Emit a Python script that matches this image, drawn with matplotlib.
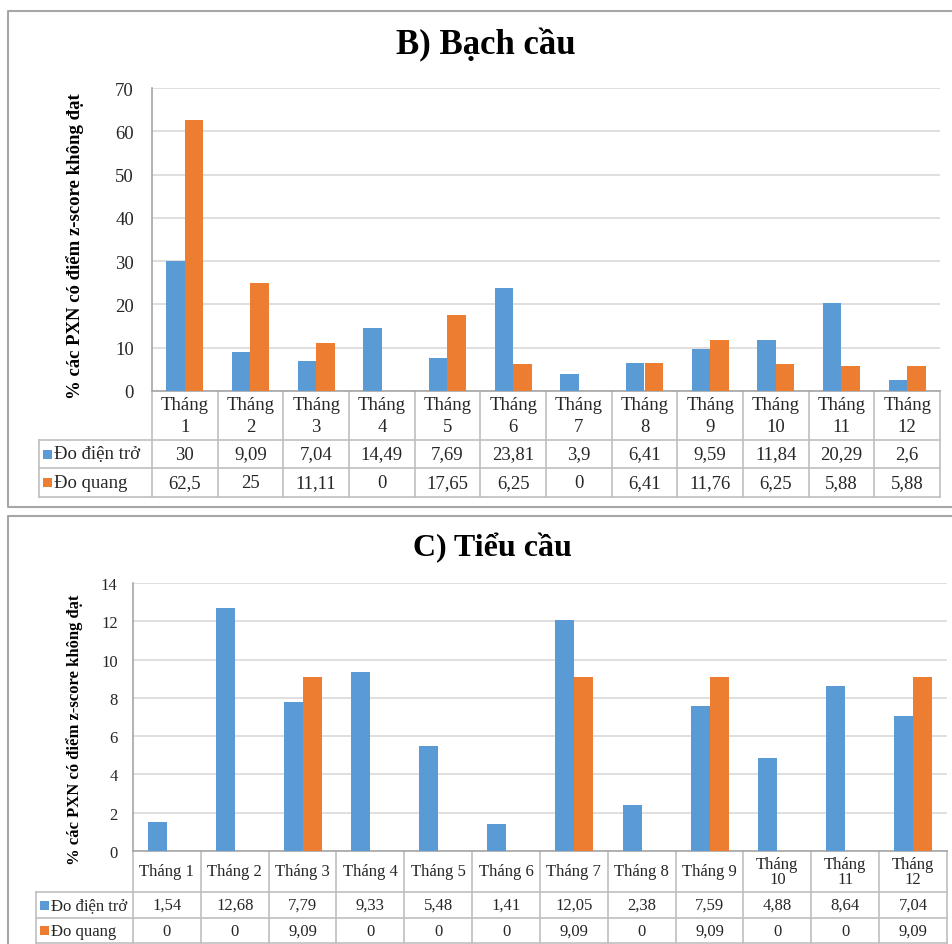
import matplotlib

matplotlib.use("Agg")
import matplotlib.pyplot as plt
import numpy as np

W, H = 953, 945

# ---------------------------------------------------------------- dữ liệu
months = [f"Tháng {i}" for i in range(1, 13)]
series = ["Đo điện trở", "Đo quang"]
b_dien_tro = [30, 9.09, 7.04, 14.49, 7.69, 23.81, 3.9, 6.41, 9.59, 11.84, 20.29, 2.6]
b_quang = [62.5, 25, 11.11, 0, 17.65, 6.25, 0, 6.41, 11.76, 6.25, 5.88, 5.88]
c_dien_tro = [1.54, 12.68, 7.79, 9.33, 5.48, 1.41, 12.05, 2.38, 7.59, 4.88, 8.64, 7.04]
c_quang = [0, 0, 9.09, 0, 0, 0, 9.09, 0, 9.09, 0, 0, 9.09]
b_yticks = np.arange(0, 71, 10)
c_yticks = np.arange(0, 15, 2)
ylabel = "% các PXN có điểm z-score không đạt"

BLUE, ORANGE = "#5B9BD5", "#ED7D31"
GRID, LINE, FRAME = "#D9D9D9", "#BFBFBF", "#A6A6A6"
plt.rcParams["font.family"] = ["Liberation Serif", "DejaVu Serif"]

fig = plt.figure(figsize=(W / 100, H / 100), dpi=100)
bg = fig.add_axes([0, 0, 1, 1])
bg.set_xlim(0, W); bg.set_ylim(H, 0); bg.axis("off")


def fmt(v):
    return f"{v:g}".replace(".", ",")


def panel(title, title_xy, title_fs, vals, yticks, box, rows, leg_x, frame,
          cats, fs, ylab_y, ylab_fs, pad, cat_ls):
    x0, y0, x1, y1 = box
    # khung ngoài
    fx0, fy0, fx1, fy1 = frame
    bg.plot([fx1, fx0, fx0, fx1], [fy0, fy0, fy1, fy1], color=FRAME, lw=1.5)
    bg.text(*title_xy, title, ha="center", va="center", fontsize=title_fs, fontweight="bold")
    bg.text(75, ylab_y, ylabel, ha="center", va="center", rotation=90,
            fontsize=ylab_fs, fontweight="bold")

    ax = fig.add_axes([x0 / W, 1 - y1 / H, (x1 - x0) / W, (y1 - y0) / H])
    x = np.arange(len(cats))
    wbar = 0.28
    ax.bar(x - wbar / 2, vals[0], wbar, color=BLUE, zorder=3)
    ax.bar(x + wbar / 2, vals[1], wbar, color=ORANGE, zorder=3)
    ax.set_xlim(-0.5, len(cats) - 0.5)
    ax.set_ylim(yticks[0], yticks[-1])
    ax.set_yticks(yticks)
    ax.set_xticks([])
    ax.tick_params(axis="y", length=0, pad=pad, labelsize=fs, colors="#262626")
    ax.grid(axis="y", color=GRID, lw=1.2, zorder=0)
    for s in ("top", "right"):
        ax.spines[s].set_visible(False)
    for s in ("left", "bottom"):
        ax.spines[s].set_color(FRAME); ax.spines[s].set_linewidth(1.2)
    ax.patch.set_alpha(0)

    # bảng dữ liệu
    colw = (x1 - x0) / len(cats)
    r0, r1, r2, r3 = rows
    for i in range(len(cats) + 1):
        bg.plot([x0 + i * colw] * 2, [r0, r3], color=LINE, lw=1.2)
    bg.plot([leg_x, leg_x], [r1, r3], color=LINE, lw=1.2)
    for yy in (r1, r2, r3):
        bg.plot([leg_x, x1], [yy, yy], color=LINE, lw=1.2)
    for i, c in enumerate(cats):
        cx = x0 + (i + 0.5) * colw
        bg.text(cx, (r0 + r1) / 2, c, ha="center", va="center", fontsize=fs,
                linespacing=cat_ls, color="#262626")
        for k, (ya, yb) in enumerate([(r1, r2), (r2, r3)]):
            bg.text(cx, (ya + yb) / 2, fmt(vals[k][i]), ha="center", va="center",
                    fontsize=fs, color="#262626")
    for k, (ya, yb) in enumerate([(r1, r2), (r2, r3)]):
        cy = (ya + yb) / 2
        bg.add_patch(plt.Rectangle((leg_x + 4, cy - 4.5), 9, 9,
                                   color=[BLUE, ORANGE][k], lw=0))
        bg.text(leg_x + 15, cy, series[k], ha="left", va="center", fontsize=fs,
                color="#262626")


cats_b = [m.replace(" ", "\n") for m in months]
cats_c = [m if i < 9 else m.replace(" ", "\n") for i, m in enumerate(months)]

panel("B) Bạch cầu", (486, 45), 25, (b_dien_tro, b_quang), b_yticks,
      (152, 89, 940, 392), (392, 441, 469, 498), 39, (8, 12, 965, 508),
      cats_b, 13.5, 246, 13.5, 13, 1.35)
panel("C) Tiểu cầu", (492, 548), 23, (c_dien_tro, c_quang), c_yticks,
      (133, 584, 947, 852), (852, 893, 919, 944), 36, (8, 517, 965, 960),
      cats_c, 12, 730, 12, 11, 0.95)

fig.savefig("out.png", dpi=100)
